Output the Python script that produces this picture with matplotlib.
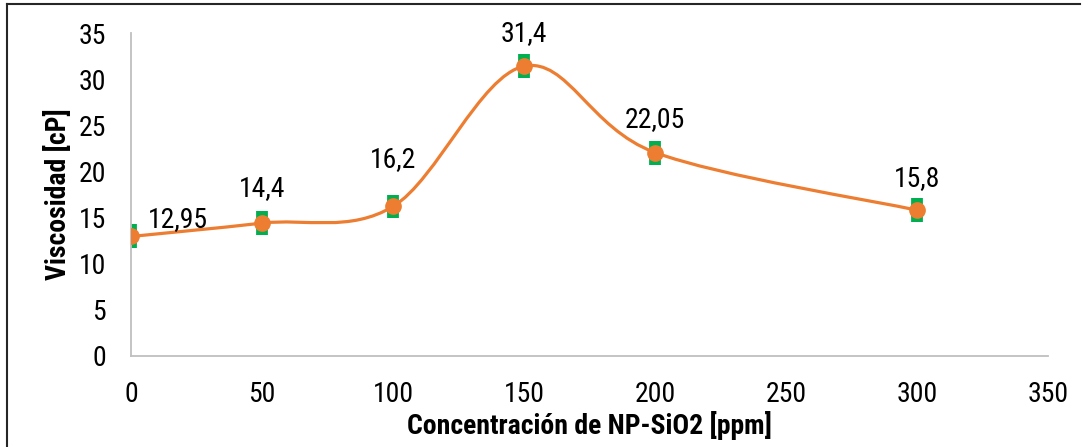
import numpy as np
import matplotlib
matplotlib.use("Agg")
import matplotlib.pyplot as plt
from matplotlib import font_manager as fm
from matplotlib.path import Path
from matplotlib.patches import PathPatch
from matplotlib.lines import Line2D

# ---- data ----
conc = [0, 50, 100, 150, 200, 300]
visc = [12.95, 14.4, 16.2, 31.4, 22.05, 15.8]
err = [1.3, 1.3, 1.3, 1.3, 1.3, 1.3]
labels = ["12,95", "14,4", "16,2", "31,4", "22,05", "15,8"]
x_ticks = [0, 50, 100, 150, 200, 250, 300, 350]
y_ticks = [0, 5, 10, 15, 20, 25, 30, 35]
xlabel = "Concentración de NP-SiO2 [ppm]"
ylabel = "Viscosidad [cP]"

# look for a condensed sans font
cands = []
for f in fm.fontManager.ttflist:
    nm = f.name
    st = str(f.stretch).lower()
    if ("narrow" in nm.lower() or "condensed" in nm.lower() or "condensed" in st) \
            and "mono" not in nm.lower() and "serif" not in nm.lower().replace("sans", ""):
        cands.append(nm)
pref = ["Liberation Sans Narrow", "Arial Narrow", "Roboto Condensed", "Open Sans Condensed",
        "DejaVu Sans Condensed", "Noto Sans Condensed"]
fam = None
for p in pref:
    if p in cands:
        fam = p
        break
if fam is None and cands:
    fam = sorted(cands)[0]
if fam is None:
    fam = "Liberation Sans"
    FS = 18
else:
    FS = 20
plt.rcParams["font.family"] = [fam, "DejaVu Sans"]
if fam.startswith("DejaVu"):
    FS = 17

W, H, DPI = 1089, 447, 100
fig = plt.figure(figsize=(W / DPI, H / DPI), dpi=DPI)
ax = fig.add_axes([131 / W, 1 - 356 / H, (1048 - 131) / W, (356 - 33) / H])

orange = "#ED7D31"
green = "#00B050"

# error bars (thick green)
ax.errorbar(conc, visc, yerr=err, fmt="none", ecolor=green, elinewidth=8.5,
            capsize=0, zorder=2)

# smoothed line (Catmull-Rom -> cubic Bezier)
P = np.column_stack([conc, visc]).astype(float)
n = len(P)
verts = [tuple(P[0])]
codes = [Path.MOVETO]
for i in range(n - 1):
    p0 = P[i - 1] if i > 0 else P[i]
    p1 = P[i]
    p2 = P[i + 1]
    p3 = P[i + 2] if i + 2 < n else P[i + 1]
    c1 = p1 + (p2 - p0) / 6.0
    c2 = p2 - (p3 - p1) / 6.0
    verts += [tuple(c1), tuple(c2), tuple(p2)]
    codes += [Path.CURVE4] * 3
ax.add_patch(PathPatch(Path(verts, codes), fill=False, edgecolor=orange,
                       lw=2.3, zorder=3, capstyle="round"))
ax.plot(conc, visc, linestyle="none", marker="o", ms=11, color=orange, zorder=4)

# data labels
offsets = [(47, 17), (0, 35), (0, 47), (0, 33), (0, 33), (0, 32)]
for x, y, t, (dx, dy) in zip(conc, visc, labels, offsets):
    ax.annotate(t, (x, y), xytext=(dx, dy), textcoords="offset pixels",
                ha="center", va="center", fontsize=FS, color="black", zorder=5)

ax.set_xlim(0, 350)
ax.set_ylim(0, 35)
ax.set_xticks(x_ticks)
ax.set_yticks(y_ticks)
ax.tick_params(length=0, labelsize=FS)
ax.tick_params(axis="x", pad=18)
ax.tick_params(axis="y", pad=18)
for s in ["top", "right"]:
    ax.spines[s].set_visible(False)
for s in ["left", "bottom"]:
    ax.spines[s].set_color("#BFBFBF")
    ax.spines[s].set_linewidth(1.3)
ax.set_xlabel(xlabel, fontsize=FS, fontweight="bold", labelpad=2)
ax.set_ylabel(ylabel, fontsize=FS, fontweight="bold")
ax.yaxis.set_label_coords((72 - 131) / 917, 0.5)

# figure border (top and left visible)
fig.add_artist(Line2D([7 / W, 7 / W], [0, 1 - 4 / H], color="#262626", lw=1.5,
                      transform=fig.transFigure))
fig.add_artist(Line2D([7 / W, 1080 / W], [1 - 4 / H, 1 - 4 / H], color="#262626",
                      lw=1.5, transform=fig.transFigure))

fig.savefig("out.png", dpi=DPI)
